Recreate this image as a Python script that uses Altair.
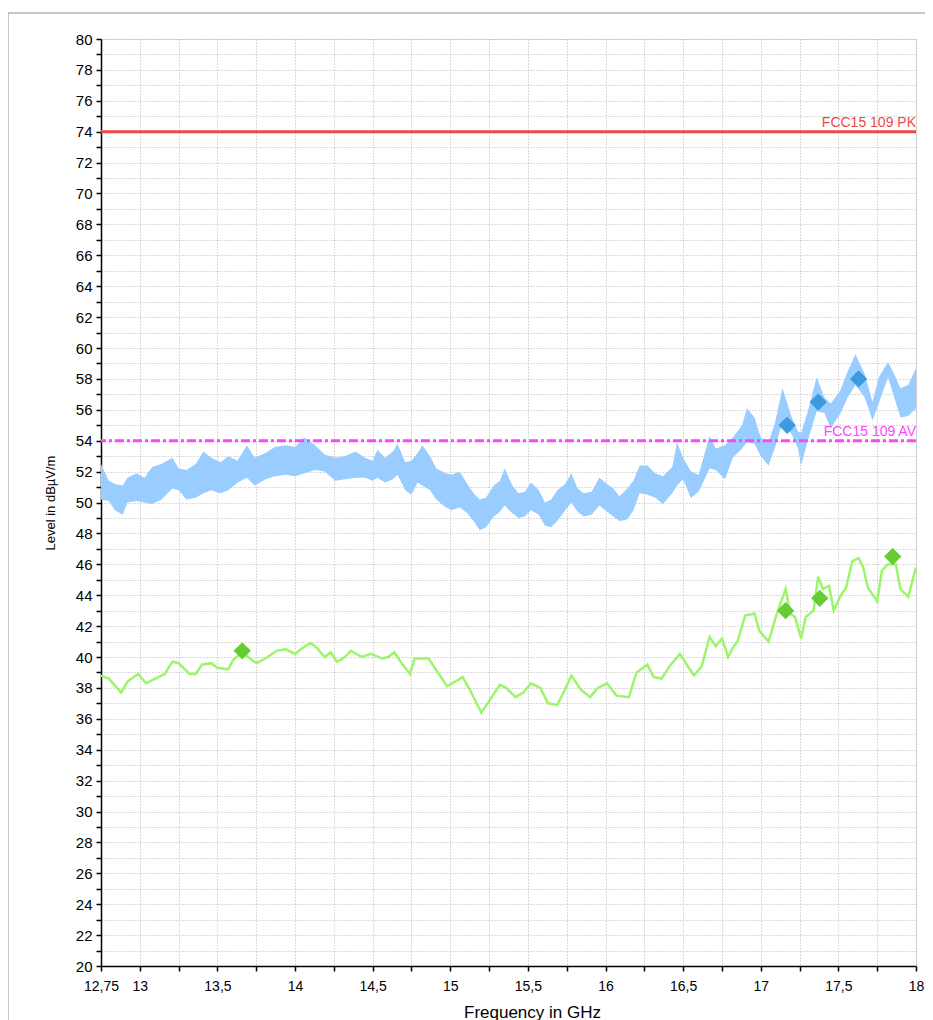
import altair as alt
import pandas as pd

# ---- Peak trace (envelope of the noisy peak detector trace), GHz / dBµV/m
freq_pk = [12.75, 12.80, 12.84, 12.89, 12.92, 12.98, 13.03, 13.08, 13.14, 13.21,
           13.25, 13.30, 13.36, 13.41, 13.46, 13.52, 13.57, 13.63, 13.69, 13.74,
           13.81, 13.87, 13.94, 14.00, 14.06, 14.13, 14.19, 14.26, 14.32, 14.39,
           14.45, 14.50, 14.53, 14.58, 14.63, 14.66, 14.71, 14.75, 14.79, 14.82,
           14.87, 14.91, 14.97, 15.01, 15.06, 15.11, 15.15, 15.19, 15.23, 15.28,
           15.32, 15.35, 15.40, 15.44, 15.48, 15.52, 15.57, 15.61, 15.65, 15.69,
           15.74, 15.78, 15.82, 15.86, 15.91, 15.96, 16.01, 16.05, 16.09, 16.14,
           16.18, 16.22, 16.27, 16.32, 16.37, 16.43, 16.46, 16.50, 16.55, 16.60,
           16.67, 16.71, 16.77, 16.82, 16.88, 16.91, 16.96, 17.00, 17.05, 17.09,
           17.14, 17.20, 17.24, 17.26, 17.30, 17.36, 17.41, 17.45, 17.51, 17.56,
           17.61, 17.67, 17.72, 17.76, 17.82, 17.86, 17.90, 17.95, 18.00]
pk_hi = [52.5, 51.4, 51.2, 51.1, 51.6, 51.9, 51.6, 52.3, 52.5, 52.9,
         52.2, 52.1, 52.5, 53.3, 52.9, 52.6, 53.0, 52.7, 53.7, 52.9,
         53.2, 53.6, 53.7, 53.6, 54.2, 53.7, 53.1, 52.9, 53.0, 53.3,
         52.9, 52.7, 53.4, 52.9, 53.3, 53.8, 52.6, 52.7, 53.2, 53.7,
         53.0, 52.2, 51.9, 51.8, 52.0, 51.2, 50.6, 50.2, 50.3, 51.1,
         51.4, 52.2, 51.1, 50.6, 50.7, 51.3, 50.8, 50.0, 50.2, 50.8,
         51.2, 51.9, 50.9, 50.6, 50.7, 51.6, 51.2, 50.9, 50.4, 50.9,
         51.4, 52.4, 52.4, 51.9, 51.7, 52.3, 53.9, 52.9, 52.0, 51.8,
         54.3, 53.5, 53.7, 54.2, 55.0, 56.1, 55.5, 54.2, 53.9, 55.1,
         57.4, 55.5, 54.6, 54.5, 55.8, 58.1, 56.8, 56.4, 57.2, 58.5,
         59.6, 58.3, 56.5, 58.1, 59.1, 58.3, 57.4, 57.6, 58.7]
pk_lo = [50.2, 50.1, 49.5, 49.2, 50.0, 50.1, 50.0, 49.9, 50.2, 50.9,
         50.8, 50.2, 50.3, 50.6, 50.8, 50.6, 50.8, 51.3, 51.6, 51.1,
         51.5, 51.7, 51.8, 51.7, 51.9, 52.1, 52.0, 51.4, 51.5, 51.6,
         51.6, 51.4, 51.6, 51.3, 51.5, 51.8, 50.8, 50.5, 51.3, 51.1,
         50.8, 50.2, 49.7, 49.5, 49.7, 49.3, 48.8, 48.2, 48.4, 49.1,
         49.4, 49.8, 49.3, 49.0, 49.1, 49.5, 49.2, 48.5, 48.4, 48.8,
         49.5, 50.0, 49.4, 49.1, 49.2, 49.8, 49.4, 49.1, 48.8, 48.9,
         49.5, 50.6, 50.5, 50.3, 49.9, 50.6, 51.1, 51.5, 50.3, 50.7,
         52.2, 52.1, 51.5, 52.9, 53.5, 53.9, 53.8, 53.0, 52.4, 53.5,
         55.2, 54.4, 53.5, 52.4, 53.9, 55.9, 55.8, 54.8, 55.7, 56.8,
         57.6, 56.8, 55.3, 56.4, 58.1, 56.8, 55.5, 55.6, 56.1]

# ---- Average trace
freq_av = [12.75, 12.80, 12.88, 12.92, 12.99, 13.04, 13.10, 13.16, 13.21, 13.25,
           13.32, 13.36, 13.40, 13.46, 13.50, 13.57, 13.60, 13.66, 13.71, 13.75,
           13.81, 13.88, 13.94, 14.00, 14.05, 14.10, 14.14, 14.19, 14.23, 14.27,
           14.31, 14.36, 14.43, 14.49, 14.56, 14.60, 14.64, 14.68, 14.74, 14.77,
           14.86, 14.92, 14.98, 15.03, 15.08, 15.13, 15.20, 15.24, 15.32, 15.36,
           15.42, 15.47, 15.52, 15.58, 15.63, 15.69, 15.73, 15.78, 15.84, 15.90,
           15.95, 16.01, 16.07, 16.15, 16.20, 16.27, 16.31, 16.36, 16.42, 16.48,
           16.53, 16.57, 16.62, 16.67, 16.71, 16.75, 16.79, 16.82, 16.85, 16.90,
           16.96, 16.99, 17.05, 17.10, 17.16, 17.19, 17.22, 17.26, 17.29, 17.34,
           17.37, 17.40, 17.44, 17.47, 17.51, 17.55, 17.59, 17.63, 17.66, 17.69,
           17.75, 17.78, 17.82, 17.87, 17.90, 17.95, 18.00]
av_vals = [38.8, 38.6, 37.7, 38.4, 38.9, 38.3, 38.6, 38.9, 39.7, 39.6,
           38.9, 38.9, 39.5, 39.6, 39.3, 39.2, 39.8, 40.3, 39.9, 39.6,
           39.9, 40.4, 40.5, 40.2, 40.6, 40.9, 40.6, 40.0, 40.3, 39.7,
           39.9, 40.4, 40.0, 40.2, 39.9, 40.0, 40.3, 39.7, 38.9, 39.9,
           39.9, 39.0, 38.1, 38.4, 38.7, 37.8, 36.4, 37.0, 38.2, 38.0,
           37.4, 37.7, 38.3, 38.0, 37.0, 36.9, 37.7, 38.8, 37.9, 37.4,
           38.0, 38.3, 37.5, 37.4, 39.0, 39.5, 38.7, 38.6, 39.5, 40.2,
           39.4, 38.8, 39.4, 41.3, 40.7, 41.2, 40.0, 40.6, 41.0, 42.7,
           42.8, 41.7, 41.0, 42.7, 44.4, 42.8, 42.6, 41.2, 42.6, 43.0,
           45.2, 44.4, 44.6, 43.0, 43.9, 44.5, 46.2, 46.4, 45.8, 44.5,
           43.6, 45.6, 46.0, 46.0, 44.4, 43.9, 45.8]

# ---- Final measurement markers
pk_mark_f = [17.17, 17.37, 17.63]
pk_mark_v = [55.0, 56.5, 58.0]
av_mark_f = [13.66, 17.16, 17.38, 17.85]
av_mark_v = [40.4, 43.0, 43.8, 46.5]

# ---- Limit lines
limit_names = ["FCC15 109 PK", "FCC15 109 AV"]
limit_levels = [74, 54]

x_ticks = [12.75 + 0.25 * i for i in range(22)]
y_ticks = list(range(20, 81))

FONT = "Liberation Sans"

df_pk = pd.DataFrame({"f": freq_pk, "lo": pk_lo, "hi": pk_hi})
df_av = pd.DataFrame({"f": freq_av, "v": av_vals})
df_pkm = pd.DataFrame({"f": pk_mark_f, "v": pk_mark_v})
df_avm = pd.DataFrame({"f": av_mark_f, "v": av_mark_v})
df_lim = pd.DataFrame({"name": limit_names, "level": limit_levels, "f": [18.0, 18.0]})

x_scale = alt.Scale(domain=[12.75, 18], nice=False, zero=False)
y_scale = alt.Scale(domain=[20, 80], nice=False, zero=False)

x_axis = alt.Axis(
    values=x_ticks, tickCount=200,
    labelExpr="(abs(datum.value - 12.75) < 0.001 || abs(datum.value * 2 - round(datum.value * 2)) < 0.001) ? replace(format(datum.value, '.4~f'), '.', ',') : ''",
    title="Frequency in GHz",
    titleFontSize=17, titleFontWeight="normal", titleFont=FONT,
    titleX=431, titleY=51, titleBaseline="alphabetic",
    labelFontSize=14, labelFont=FONT, labelColor="black", labelPadding=8,
    labelFlush=False, labelOverlap=False,
    tickColor="black", tickSize=5, tickWidth=1.5,
    domainColor="black", domainWidth=1.5,
    grid=True, gridColor="#b4b4b4", gridDash=[1, 2], gridWidth=1,
)
y_axis = alt.Axis(
    values=y_ticks, tickCount=200,
    labelExpr="datum.value % 2 == 0 ? format(datum.value, 'd') : ''",
    title="Level in dBµV/m",
    titleFontSize=13, titleFontWeight="normal", titleFont=FONT, titlePadding=18,
    labelFontSize=15, labelFont=FONT, labelColor="black", labelPadding=4,
    labelOverlap=False,
    tickColor="black", tickSize=5, tickWidth=1.5,
    domainColor="black", domainWidth=1.5,
    grid=True, gridColor="#b4b4b4", gridDash=[1, 2], gridWidth=1,
)

band = alt.Chart(df_pk).mark_area(color="#99ccff", opacity=1).encode(
    x=alt.X("f:Q", scale=x_scale, axis=x_axis),
    y=alt.Y("hi:Q", scale=y_scale, axis=y_axis),
    y2="lo:Q",
)

av_line = alt.Chart(df_av).mark_line(color="#9cf56b", strokeWidth=2.5).encode(
    x=alt.X("f:Q", scale=x_scale),
    y=alt.Y("v:Q", scale=y_scale),
)

pk_rule = alt.Chart(df_lim[df_lim["level"] == 74]).mark_rule(color="#f04848", strokeWidth=3).encode(
    y=alt.Y("level:Q", scale=y_scale)
)
av_rule = alt.Chart(df_lim[df_lim["level"] == 54]).mark_rule(
    color="#ff44ff", strokeWidth=3, strokeDash=[9, 3, 3, 3]
).encode(y=alt.Y("level:Q", scale=y_scale))

lim_text = alt.Chart(df_lim).mark_text(
    align="right", baseline="bottom", dy=-2, fontSize=14, font=FONT
).encode(
    x=alt.X("f:Q", scale=x_scale),
    y=alt.Y("level:Q", scale=y_scale),
    text="name:N",
    color=alt.Color("name:N", scale=alt.Scale(domain=limit_names, range=["#f04848", "#ff44ff"]), legend=None),
)

pk_marks = alt.Chart(df_pkm).mark_point(shape="diamond", filled=True, size=300, color="#3d9ae0", opacity=1).encode(
    x=alt.X("f:Q", scale=x_scale), y=alt.Y("v:Q", scale=y_scale)
)
av_marks = alt.Chart(df_avm).mark_point(shape="diamond", filled=True, size=300, color="#66cc33", opacity=1).encode(
    x=alt.X("f:Q", scale=x_scale), y=alt.Y("v:Q", scale=y_scale)
)

frame_data = alt.Data(values=[{}])
frame_top = alt.Chart(frame_data).mark_rule(color="#c8c8c8", strokeWidth=2).encode(
    x=alt.value(-93), x2=alt.value(840), y=alt.value(-26)
)
frame_left = alt.Chart(frame_data).mark_rule(color="#c8c8c8", strokeWidth=2).encode(
    x=alt.value(-93), y=alt.value(-26), y2=alt.value(1010)
)

chart = alt.layer(
    frame_top, frame_left, band, av_line, pk_rule, av_rule, lim_text, pk_marks, av_marks
).properties(
    width=815, height=927,
    padding={"left": 93, "top": 31, "right": 9, "bottom": 54},
    autosize=alt.AutoSizeParams(type="none"),
).configure_view(strokeWidth=0).configure(background="white")

chart.save("out.html", embed_options={"renderer": "svg", "actions": False})
